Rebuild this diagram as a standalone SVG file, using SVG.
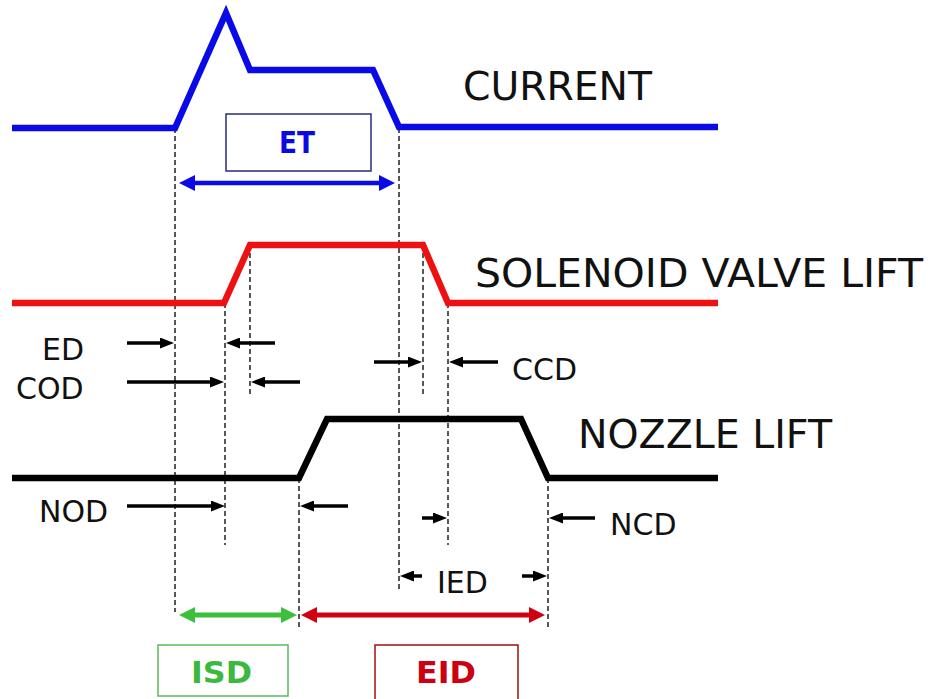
<svg xmlns="http://www.w3.org/2000/svg" width="936" height="699" viewBox="0 0 936 699">
<style>
.trace{fill:none;stroke-width:6.5;stroke-linejoin:miter;stroke-linecap:butt}
.lbl{font-family:"DejaVu Sans",Verdana,sans-serif;fill:#111}
.big{font-size:39px}
.sm{font-size:30px}
.bold{font-family:"DejaVu Sans",Verdana,sans-serif;font-weight:bold;font-size:31px}
.dash{stroke:#111;stroke-width:1.4;stroke-dasharray:5 3;fill:none}
.sa{stroke:#000;stroke-width:3.5;fill:none;marker-end:url(#ha)}
.box{fill:#fff;stroke-width:1.5}
</style>
<defs>
<marker id="ha" markerUnits="userSpaceOnUse" viewBox="0 0 14 11" refX="8" refY="5.5" markerWidth="14" markerHeight="11" orient="auto">
<path d="M0,0 L14,5.5 L0,11 z" fill="#000"/>
</marker>
<marker id="hb" markerUnits="userSpaceOnUse" viewBox="0 0 16 16" refX="9" refY="8" markerWidth="16" markerHeight="16" orient="auto-start-reverse">
<path d="M0,0 L16,8 L0,16 z" fill="#0a0ae6"/>
</marker>
<marker id="hg" markerUnits="userSpaceOnUse" viewBox="0 0 16 16" refX="9" refY="8" markerWidth="16" markerHeight="16" orient="auto-start-reverse">
<path d="M0,0 L16,8 L0,16 z" fill="#3cc03c"/>
</marker>
<marker id="hr" markerUnits="userSpaceOnUse" viewBox="0 0 16 16" refX="9" refY="8" markerWidth="16" markerHeight="16" orient="auto-start-reverse">
<path d="M0,0 L16,8 L0,16 z" fill="#d00010"/>
</marker>
</defs>
<rect width="936" height="699" fill="#fff"/>

<g id="connectors">
<path class="dash" d="M175,128 V612"/>
<path class="dash" d="M399,128 V590"/>
<path class="dash" d="M225,303 V545"/>
<path class="dash" d="M250,245 V395"/>
<path class="dash" d="M423,245 V397"/>
<path class="dash" d="M448,303 V545"/>
<path class="dash" d="M299,478 V630"/>
<path class="dash" d="M548,478 V630"/>

<path class="sa" d="M127,343 H168"/>
<path class="sa" d="M275,343 H232"/>
<path class="sa" d="M127,382 H218"/>
<path class="sa" d="M300,382 H257"/>
<path class="sa" d="M374,362 H416"/>
<path class="sa" d="M498,362 H455"/>
<path class="sa" d="M127,506 H219"/>
<path class="sa" d="M348,506 H306"/>
<path class="sa" d="M422,518 H441"/>
<path class="sa" d="M595,518 H555"/>
<path class="sa" d="M422,576 H406"/>
<path class="sa" d="M522,576 H541"/>

<path d="M186,183 H388" stroke="#0a0ae6" stroke-width="4.5" fill="none" marker-start="url(#hb)" marker-end="url(#hb)"/>
<path d="M186,615 H290" stroke="#3cc03c" stroke-width="5" fill="none" marker-start="url(#hg)" marker-end="url(#hg)"/>
<path d="M308,615 H538" stroke="#d00010" stroke-width="5" fill="none" marker-start="url(#hr)" marker-end="url(#hr)"/>
</g>

<g id="current">
<path class="trace" stroke="#0a0ae6" d="M12,128 H175 L226,13 L250,70 H373 L399,127 H718"/>
<text class="lbl big" x="463" y="100" textLength="189" lengthAdjust="spacingAndGlyphs">CURRENT</text>
</g>

<g id="solenoid-valve-lift">
<path class="trace" stroke="#ee1111" d="M12,303 H224 L250,245 H423 L448,303 H718"/>
<text class="lbl big" x="475" y="287" textLength="448" lengthAdjust="spacingAndGlyphs">SOLENOID VALVE LIFT</text>
</g>

<g id="nozzle-lift">
<path class="trace" stroke="#000" d="M12,478 H299 L327,419 H521 L548,478 H718"/>
<text class="lbl big" x="578" y="448" textLength="254" lengthAdjust="spacingAndGlyphs">NOZZLE LIFT</text>
</g>

<g id="et">
<rect class="box" x="226" y="114" width="145" height="57" stroke="#2a2a80"/>
<text class="bold" x="279" y="153" fill="#0a0ae6" textLength="36" lengthAdjust="spacingAndGlyphs">ET</text>
</g>

<g id="isd">
<rect class="box" x="158" y="645" width="130" height="51" stroke="#5cb85c"/>
<text class="bold" x="191" y="683" fill="#3cb83c" textLength="61" lengthAdjust="spacingAndGlyphs">ISD</text>
</g>

<g id="eid">
<rect class="box" x="375" y="645" width="143" height="64" stroke="#a01010"/>
<text class="bold" x="416" y="683" fill="#cc0010" textLength="60" lengthAdjust="spacingAndGlyphs">EID</text>
</g>

<g id="labels">
<text class="lbl sm" x="42" y="360">ED</text>
<text class="lbl sm" x="16" y="399">COD</text>
<text class="lbl sm" x="39" y="522">NOD</text>
<text class="lbl sm" x="512" y="380">CCD</text>
<text class="lbl sm" x="610" y="535">NCD</text>
<text class="lbl sm" x="437" y="593">IED</text>
</g>
</svg>
